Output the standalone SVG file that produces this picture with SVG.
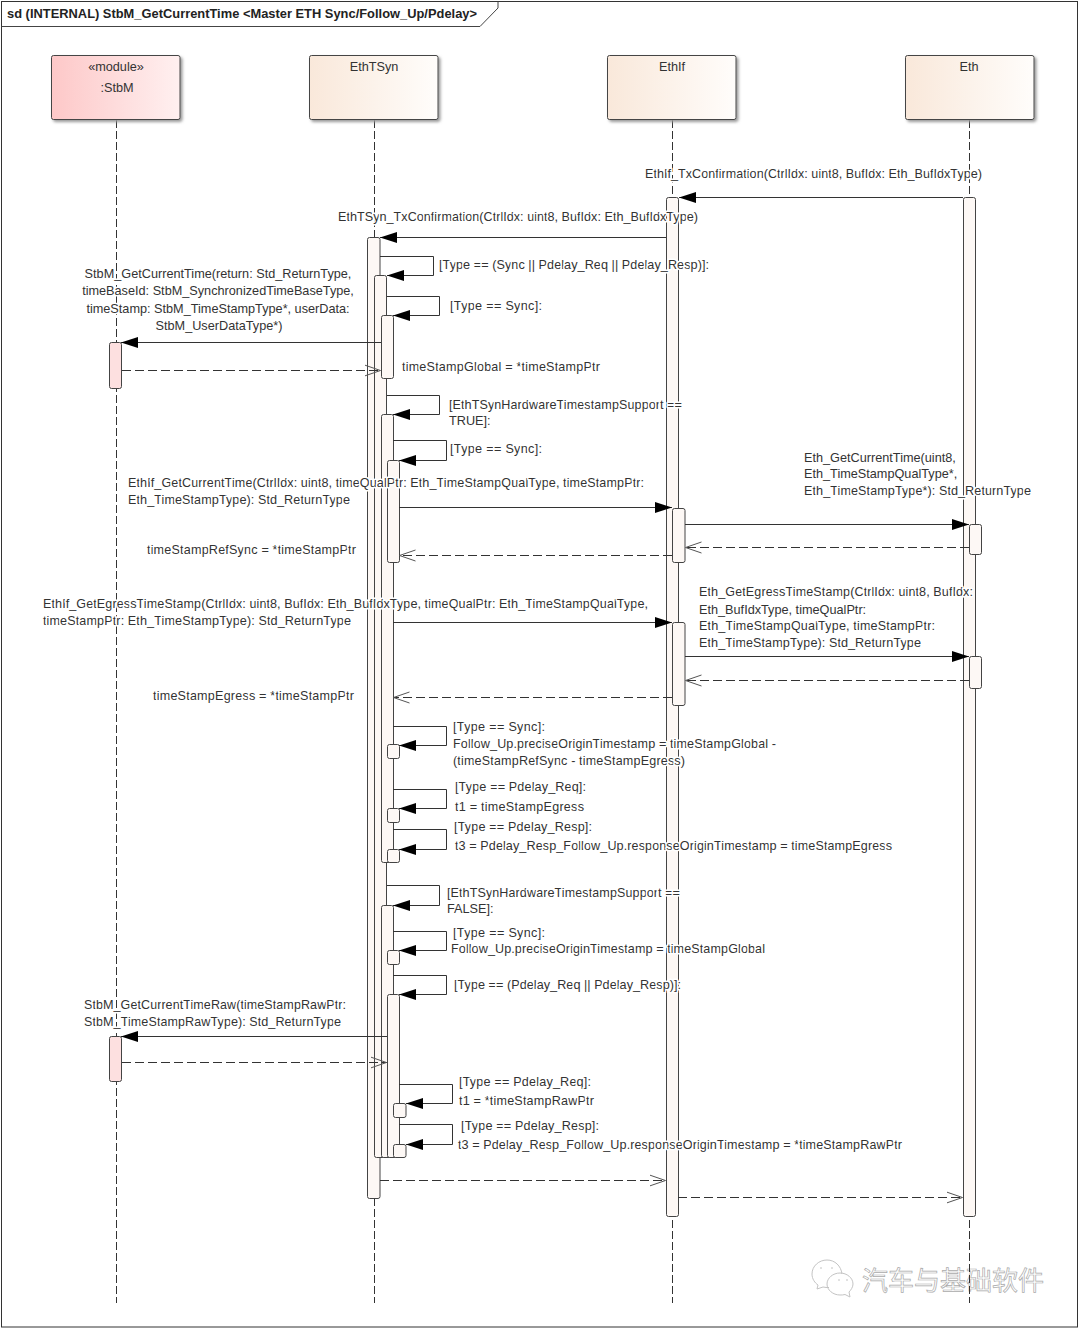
<svg xmlns="http://www.w3.org/2000/svg" width="1080" height="1328" viewBox="0 0 1080 1328">
<style>
text{font-family:"Liberation Sans",Arial,sans-serif;font-size:12.7px;fill:#333}
.l{paint-order:stroke;stroke:#fff;stroke-width:3px;stroke-linejoin:round}
.t{font-weight:bold;font-size:12.85px;fill:#222}
.m{text-anchor:middle}
.w{font-family:"Noto Sans CJK SC",sans-serif;font-size:26px;fill:#fff;stroke:#aaa;stroke-width:.7px}
.life{stroke:#333;stroke-width:1;stroke-dasharray:8 3;fill:none}
.act{fill:#fdf8f5;stroke:#444;stroke-width:1}
.pink{fill:#fde0e0}
.box{stroke:#444;stroke-width:1}
.c{fill:none;stroke:#333;stroke-width:1;marker-end:url(#f)}
.r{fill:none;stroke:#333;stroke-width:1;stroke-dasharray:9 4;marker-end:url(#o)}
.i{fill:none;stroke:#c4c4c4;stroke-width:1}
</style>
<defs>
<marker id="f" markerUnits="userSpaceOnUse" markerWidth="18" markerHeight="12" refX="17" refY="6" orient="auto"><path d="M0,.5L17,6L0,11.5z" fill="#000"/></marker>
<marker id="o" markerUnits="userSpaceOnUse" markerWidth="18" markerHeight="14" refX="16.5" refY="7" orient="auto"><path d="M0,1.500L16,7L0,12.500" fill="none" stroke="#555" stroke-width="1"/></marker>
<linearGradient id="gp"><stop offset="0" stop-color="#fdc8c8"/><stop offset="1" stop-color="#fff0f0"/></linearGradient>
<linearGradient id="go"><stop offset="0" stop-color="#f9e8da"/><stop offset="1" stop-color="#fffdfb"/></linearGradient>
<filter id="s" x="-10%" y="-10%" width="125%" height="125%"><feDropShadow dx="2" dy="2" stdDeviation="1.5" flood-color="#999"/></filter>
</defs>
<rect x="0" y="0" width="1080" height="1328" fill="#fff"/>
<g id="frame">
<rect x="1.500" y="1.500" width="1076" height="1325.500" fill="none" stroke="#333"/>
<path d="M1.500,26.500H480L498,8V1.500" fill="none" stroke="#444"/>
<text class="t" x="7" y="18" textLength="470">sd (INTERNAL) StbM_GetCurrentTime &lt;Master ETH Sync/Follow_Up/Pdelay&gt;</text>
</g>
<g id="watermark">
<path class="i" d="M842,1274c-1-8-7-14-15-14-8,0-15,6-15,14 0,5 3,9 6,11l-1,4 6-2c2,.5 4,.5 6,.5"/>
<path class="i" d="M853,1284c0-6-6-11-13-11s-13,5-13,11 6,11 13,11c2,0 3,0 5,-.5l5,2.500-1-5c2-2 4-5 4-8z"/>
<path class="i" d="M820,1268h2M831,1268h2M838,1280h2M846,1280h2"/>
<text class="w" x="862" y="1290">汽车与基础软件</text>
</g>
<g id="StbM">
<path class="life" d="M116.500,120V1303"/>
<rect class="box" x="51.500" y="55.500" width="128.500" height="64" rx="2" fill="url(#gp)" filter="url(#s)"/>
<text class="m" x="116" y="71">«module»</text>
<text class="m" x="117" y="92">:StbM</text>
<rect class="act pink" x="109.500" y="342.500" width="12" height="46" rx="2"/>
<rect class="act pink" x="109.500" y="1036.500" width="12" height="45" rx="2"/>
</g>
<g id="EthTSyn">
<path class="life" d="M374.500,120V1303"/>
<rect class="box" x="309.500" y="55.500" width="128.500" height="64" rx="2" fill="url(#go)" filter="url(#s)"/>
<text class="m" x="374" y="71">EthTSyn</text>
<rect class="act" x="367.500" y="237.500" width="12.500" height="961" rx="2"/>
<rect class="act" x="374.500" y="275.500" width="12" height="882" rx="2"/>
<rect class="act" x="381.500" y="315.500" width="12" height="63" rx="2"/>
<rect class="act" x="381.500" y="414.500" width="12" height="448" rx="2"/>
<rect class="act" x="387.500" y="460.500" width="12" height="102" rx="2"/>
<rect class="act" x="387.500" y="744.500" width="12" height="14" rx="2"/>
<rect class="act" x="387.500" y="808.500" width="12" height="14" rx="2"/>
<rect class="act" x="387.500" y="849.500" width="12" height="13" rx="2"/>
<rect class="act" x="381.500" y="905.500" width="12" height="252" rx="2"/>
<rect class="act" x="387.500" y="950.500" width="12" height="14" rx="2"/>
<rect class="act" x="387.500" y="994.500" width="12" height="163" rx="2"/>
<rect class="act" x="393.500" y="1103.500" width="12.500" height="14" rx="2"/>
<rect class="act" x="393.500" y="1144.500" width="12.500" height="13" rx="2"/>
</g>
<g id="EthIf">
<path class="life" d="M672.500,120V1303"/>
<rect class="box" x="607.500" y="55.500" width="128.500" height="64" rx="2" fill="url(#go)" filter="url(#s)"/>
<text class="m" x="672" y="71">EthIf</text>
<rect class="act" x="666.500" y="197.500" width="12" height="1019" rx="2"/>
<rect class="act" x="672.500" y="508.500" width="12.500" height="54" rx="2"/>
<rect class="act" x="672.500" y="622.500" width="12.500" height="83" rx="2"/>
</g>
<g id="Eth">
<path class="life" d="M969.500,120V1303"/>
<rect class="box" x="905.500" y="55.500" width="128.500" height="64" rx="2" fill="url(#go)" filter="url(#s)"/>
<text class="m" x="969" y="71">Eth</text>
<rect class="act" x="963.500" y="197.500" width="12" height="1019" rx="2"/>
<rect class="act" x="969.500" y="524.500" width="12" height="30" rx="2"/>
<rect class="act" x="969.500" y="656.500" width="12" height="32" rx="2"/>
</g>
<g id="labels" class="l">
<text x="645" y="178" textLength="337">EthIf_TxConfirmation(CtrlIdx: uint8, BufIdx: Eth_BufIdxType)</text>
<text x="338" y="221" textLength="360">EthTSyn_TxConfirmation(CtrlIdx: uint8, BufIdx: Eth_BufIdxType)</text>
<text x="439" y="269" textLength="270">[Type == (Sync || Pdelay_Req || Pdelay_Resp)]:</text>
<text class="m" x="218" y="278">StbM_GetCurrentTime(return: Std_ReturnType,</text>
<text class="m" x="218" y="295">timeBaseId: StbM_SynchronizedTimeBaseType,</text>
<text class="m" x="218" y="313">timeStamp: StbM_TimeStampType*, userData:</text>
<text class="m" x="219" y="330">StbM_UserDataType*)</text>
<text x="450" y="310" textLength="92">[Type == Sync]:</text>
<text x="402" y="371" textLength="198">timeStampGlobal = *timeStampPtr</text>
<text x="449" y="409" textLength="233">[EthTSynHardwareTimestampSupport ==</text>
<text x="449" y="425">TRUE]:</text>
<text x="450" y="453" textLength="92">[Type == Sync]:</text>
<text x="804" y="462">Eth_GetCurrentTime(uint8,</text>
<text x="804" y="478">Eth_TimeStampQualType*,</text>
<text x="804" y="495" textLength="227">Eth_TimeStampType*): Std_ReturnType</text>
<text x="128" y="487" textLength="516">EthIf_GetCurrentTime(CtrlIdx: uint8, timeQualPtr: Eth_TimeStampQualType, timeStampPtr:</text>
<text x="128" y="504" textLength="222">Eth_TimeStampType): Std_ReturnType</text>
<text x="147" y="554" textLength="209">timeStampRefSync = *timeStampPtr</text>
<text x="699" y="596" textLength="274">Eth_GetEgressTimeStamp(CtrlIdx: uint8, BufIdx:</text>
<text x="699" y="614">Eth_BufIdxType, timeQualPtr:</text>
<text x="699" y="630" textLength="236">Eth_TimeStampQualType, timeStampPtr:</text>
<text x="699" y="647" textLength="222">Eth_TimeStampType): Std_ReturnType</text>
<text x="43" y="608" textLength="605">EthIf_GetEgressTimeStamp(CtrlIdx: uint8, BufIdx: Eth_BufIdxType, timeQualPtr: Eth_TimeStampQualType,</text>
<text x="43" y="625" textLength="308">timeStampPtr: Eth_TimeStampType): Std_ReturnType</text>
<text x="153" y="700" textLength="201">timeStampEgress = *timeStampPtr</text>
<text x="453" y="731" textLength="92">[Type == Sync]:</text>
<text x="453" y="748" textLength="323">Follow_Up.preciseOriginTimestamp = timeStampGlobal -</text>
<text x="453" y="765" textLength="232">(timeStampRefSync - timeStampEgress)</text>
<text x="455" y="791" textLength="131">[Type == Pdelay_Req]:</text>
<text x="455" y="811" textLength="129">t1 = timeStampEgress</text>
<text x="454" y="831" textLength="138">[Type == Pdelay_Resp]:</text>
<text x="455" y="850" textLength="437">t3 = Pdelay_Resp_Follow_Up.responseOriginTimestamp = timeStampEgress</text>
<text x="447" y="897" textLength="233">[EthTSynHardwareTimestampSupport ==</text>
<text x="447" y="913">FALSE]:</text>
<text x="453" y="937" textLength="92">[Type == Sync]:</text>
<text x="451" y="953" textLength="314">Follow_Up.preciseOriginTimestamp = timeStampGlobal</text>
<text x="454" y="989" textLength="227">[Type == (Pdelay_Req || Pdelay_Resp)]:</text>
<text x="84" y="1009" textLength="262">StbM_GetCurrentTimeRaw(timeStampRawPtr:</text>
<text x="84" y="1026" textLength="257">StbM_TimeStampRawType): Std_ReturnType</text>
<text x="459" y="1086" textLength="132">[Type == Pdelay_Req]:</text>
<text x="459" y="1105" textLength="135">t1 = *timeStampRawPtr</text>
<text x="461" y="1130" textLength="138">[Type == Pdelay_Resp]:</text>
<text x="458" y="1149" textLength="444">t3 = Pdelay_Resp_Follow_Up.responseOriginTimestamp = *timeStampRawPtr</text>
</g>
<g id="connectors">
<path class="c" d="M963,197.500H679"/>
<path class="c" d="M666,237.500H380"/>
<path class="c" d="M380,256.500H433.500V275.500H387"/>
<path class="c" d="M387,296.500H439.500V315.500H393"/>
<path class="c" d="M381,342.500H121"/>
<path class="r" d="M122,370.500H381"/>
<path class="c" d="M387,395.500H439.500V414.500H393"/>
<path class="c" d="M393,440.500H446.500V460.500H399"/>
<path class="c" d="M399,507.500H672"/>
<path class="c" d="M685,524.500H969"/>
<path class="r" d="M969,547.500H685"/>
<path class="r" d="M672,555.500H399"/>
<path class="c" d="M393,622.500H672"/>
<path class="c" d="M685,656.500H969"/>
<path class="r" d="M969,680.500H685"/>
<path class="r" d="M672,697.500H393"/>
<path class="c" d="M393,726.500H446.500V745.500H399"/>
<path class="c" d="M393,789.500H446.500V808.500H399"/>
<path class="c" d="M393,829.500H446.500V849.500H399"/>
<path class="c" d="M387,885.500H439.500V905.500H393"/>
<path class="c" d="M393,931.500H446.500V950.500H399"/>
<path class="c" d="M393,975.500H446.500V994.500H399"/>
<path class="c" d="M387,1036.500H121"/>
<path class="r" d="M122,1062.500H387"/>
<path class="c" d="M399,1084.500H452.500V1103.500H406"/>
<path class="c" d="M399,1124.500H452.500V1144.500H406"/>
<path class="r" d="M380,1180.500H666"/>
<path class="r" d="M678,1197.500H963"/>
</g>
</svg>
